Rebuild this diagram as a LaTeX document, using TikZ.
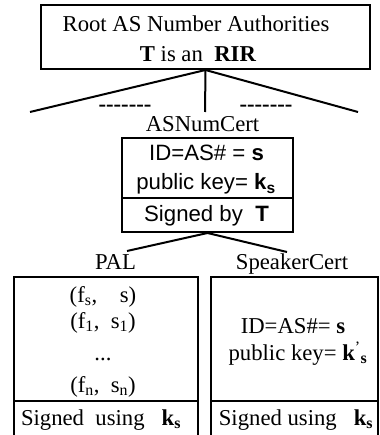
\documentclass[tikz,border=0pt]{standalone}
\usepackage{fontspec}
\setmainfont{Liberation Serif}
\setsansfont{Liberation Sans}
\usepackage{tikz}

% bold key with a subscript
\newcommand{\keysub}[1]{\textbf{k}\textsubscript{\textbf{#1}}}

\begin{document}
\begin{tikzpicture}[x=1pt,y=-1pt,
  box/.style={draw,line width=2pt,inner sep=0pt},
  txt/.style={anchor=base,inner sep=0pt,font=\fontsize{22.7}{27}\selectfont},
  stxt/.style={anchor=base,inner sep=0pt,font=\sffamily\fontsize{22.2}{26}\selectfont},
  edge/.style={line width=2pt}]
 \useasboundingbox (0,0) rectangle (379,435);
 \clip (0,0) rectangle (379,435);
 % root authorities
 \node[box,minimum width=329pt,minimum height=64pt] (root) at (205.5,37) {};
 \node[txt] (rootname) at (196,32) {Root AS Number Authorities};
 \node[txt] (rootrir) at (198,62) {\textbf{T} is an \ \textbf{RIR}};
 \coordinate (left) at (30,112);
 \coordinate (mid) at (205,112);
 \coordinate (right) at (358,112);
 \draw[edge] (left) -- (root.south) -- (right);
 \draw[edge] (root.south) -- (mid);
 \node[txt] (gapl) at (125,112) {\textbf{-{}-{}-{}-{}-{}-{}-}};
 \node[txt] (gapr) at (266,112) {\textbf{-{}-{}-{}-{}-{}-{}-}};
 % AS number certificate
 \node[txt] (asnum) at (202.5,132) {ASNumCert};
 \node[box,minimum width=171pt,minimum height=94pt] (cert) at (207.5,185) {};
 \coordinate (certcut) at (0,198);
 \draw[edge] (cert.west |- certcut) -- (cert.east |- certcut);
 \node[stxt] (certid) at (206.5,161) {ID=AS\# = \textbf{s}};
 \node[stxt] (certkey) at (206,190) {public key= \keysub{s}};
 \node[stxt] (certsig) at (206.5,222) {Signed by \ \textbf{T}};
 \coordinate (palend) at (127,251);
 \coordinate (spkend) at (287,252);
 \draw[edge] (palend) -- (cert.south) -- (spkend);
 % PAL and speaker certificate
 \node[txt] (pal) at (115.5,269) {PAL};
 \node[txt] (spk) at (292,269) {SpeakerCert};
 \node[box,minimum width=184pt,minimum height=200pt,anchor=north west] (palbox) at (13,276) {};
 \node[box,minimum width=167pt,minimum height=200pt,anchor=north west] (spkbox) at (210,276) {};
 \coordinate (lowcut) at (0,401);
 \draw[edge] (palbox.west |- lowcut) -- (palbox.east |- lowcut);
 \draw[edge] (spkbox.west |- lowcut) -- (spkbox.east |- lowcut);
 \node[txt] (pairs) at (103,302) {(f\textsubscript{s}, \ \ \ s)};
 \node[txt] (pairone) at (103,328) {(f\textsubscript{1}, \ s\textsubscript{1})};
 \node[txt] (pairdots) at (103,360) {...};
 \node[txt] (pairn) at (103,392) {(f\textsubscript{n}, \ s\textsubscript{n})};
 \node[txt] (palsig) at (101,425) {Signed \ using \ \ \keysub{s}};
 \node[txt] (spkid) at (293,333) {ID=AS\#= \textbf{s}};
 \node[txt] (spkkey) at (298,360) {public key= \textbf{k}\textsuperscript{'}\textsubscript{\textbf{s}}};
 \node[txt] (spksig) at (296,425) {Signed using \ \ \keysub{s}};
\end{tikzpicture}
\end{document}
